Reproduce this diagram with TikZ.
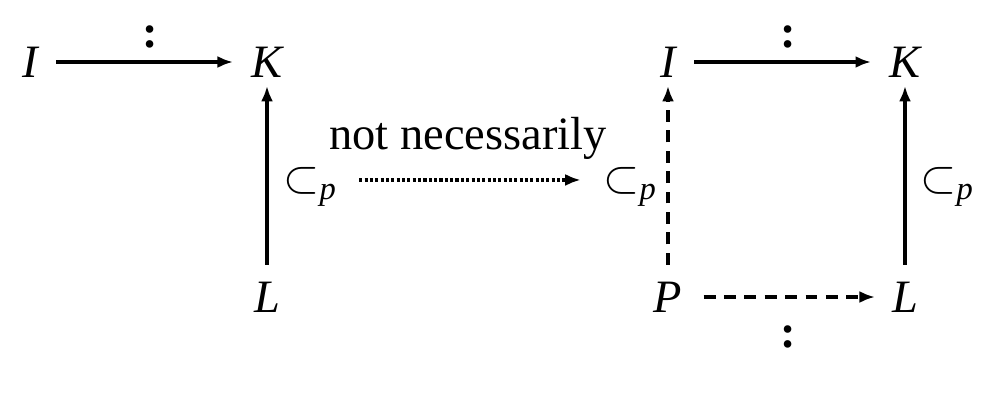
\RequirePackage{fix-cm}
\documentclass[tikz,border=0pt]{standalone}
\usepackage{amsmath}
\usepackage{fontspec}
\setmainfont{Liberation Serif}
\usetikzlibrary{arrows.meta}
\begin{document}
\begin{tikzpicture}[x=0.025cm,y=-0.025cm,
  lab/.style={inner sep=0pt,font=\fontsize{33}{36}\selectfont\itshape},
  txt/.style={inner sep=0pt,font=\fontsize{33}{36}\selectfont},
  col/.style={inner sep=0pt,font=\fontsize{33}{36}\selectfont\bfseries},
  sub/.style={inner sep=0pt,font=\fontsize{33}{36}\selectfont},
  arr/.style={line width=2.4pt,-{Latex[length=11pt,width=8.5pt]}},
  dsh/.style={arr,dash pattern=on 8.5pt off 6pt},
  dot/.style={arr,dash pattern=on 2.2pt off 1.6pt}]
\useasboundingbox (0,0) rectangle (992,408);
% left square
\node[lab] (I1) at (30,62) {I};
\node[lab] (K1) at (267,62) {K};
\node[lab] (L1) at (267,297) {L};
\node[col] (c1) at (150,37) {:};
\node[sub] (s1) at (310,187) {$\subset_{\text{\itshape p}}$};
\draw[arr,shorten <=13pt,shorten >=13pt] (I1) -- (K1);
\draw[arr,shorten <=12pt,shorten >=6pt] (L1) -- (K1);
% middle
\node[txt] (nn) at (468,138) {not necessarily};
\node[sub] (s2) at (630,187) {$\subset_{\text{\itshape p}}$};
\draw[dot,shorten <=16pt,shorten >=16pt] ([yshift=5pt]s1.east) -- ([yshift=5pt]s2.west);
% right square
\node[lab] (I2) at (668,62) {I};
\node[lab] (K2) at (905,62) {K};
\node[lab] (P2) at (668,297) {P};
\node[lab] (L2) at (905,297) {L};
\node[col] (c2) at (788,37) {:};
\node[col] (c3) at (788,337) {:};
\node[sub] (s3) at (947,187) {$\subset_{\text{\itshape p}}$};
\draw[arr,shorten <=13pt,shorten >=13pt] (I2) -- (K2);
\draw[dsh,shorten <=12pt,shorten >=6pt] (P2) -- (I2);
\draw[arr,shorten <=12pt,shorten >=6pt] (L2) -- (K2);
\draw[dsh,shorten <=15pt,shorten >=12pt] (P2) -- (L2);
\end{tikzpicture}
\end{document}
